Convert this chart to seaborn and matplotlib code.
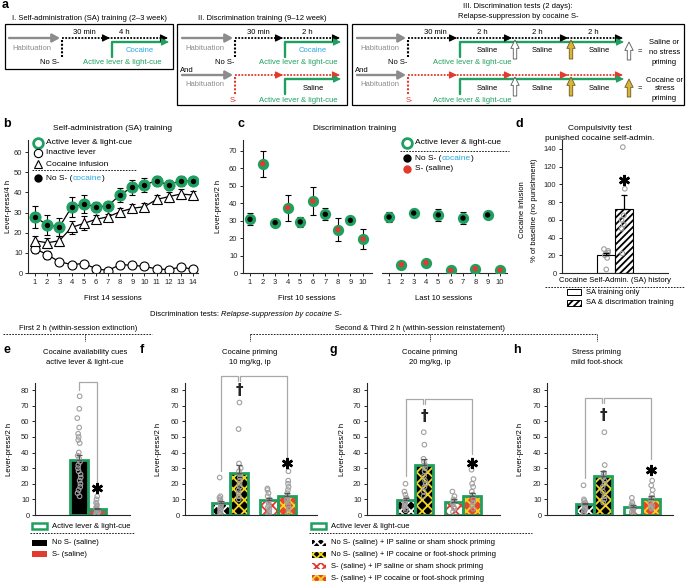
import numpy as np
import pandas as pd
import matplotlib.pyplot as plt
import seaborn as sns
from matplotlib.patches import Rectangle

# ---------------- values ----------------
# b: self-administration training
sessions_b = list(range(1, 15))
active_b = [27.9, 23.8, 22.8, 32.6, 34.2, 32.9, 33.2, 38.9, 42.5, 43.7, 45.8, 43.7, 45.8, 45.7]
active_b_err = [5.5, 5, 4.5, 5, 4.5, 2.5, 2, 3.5, 3.7, 3.6, 2.4, 2.5, 2.4, 1.8]
infusion_b = [16, 15, 16, 22.6, 24.6, 26.6, 27.9, 30.4, 32.1, 32.9, 36.5, 37.9, 39.2, 38.7]
infusion_b_err = [2.5, 2.5, 2.5, 3, 3.5, 2, 1.5, 2, 2, 2, 2, 2.5, 2.5, 2]
inactive_b = [12.1, 9.1, 5.6, 4.2, 4.7, 2.2, 1.2, 4.2, 3.8, 3.3, 2, 1.7, 3, 1.8]
inactive_b_err = [2, 2, 1, 0.8, 0.8, 0.5, 0.5, 0.8, 0.8, 0.6, 0.5, 0.5, 0.5, 0.5]

# c: discrimination training
sessions_c = list(range(1, 11))
cue_c = ["No S-", "S-"] * 5
first10 = [30.8, 62.7, 28.9, 37.5, 29.3, 41.3, 33.7, 24.9, 30.2, 19.5]
first10_err = [3.4, 7.5, 1, 7.5, 3, 8, 3.5, 6.5, 2, 6]
last10 = [32.1, 4.8, 34.4, 5.9, 33.3, 1.5, 31.5, 2.5, 33.3, 1.7]
last10_err = [3, 0.5, 2.5, 0.5, 3.5, 0.5, 3.5, 0.5, 2, 0.5]

# d: compulsivity test
groups_d = ["SA training only", "SA & discrimation training"]
mean_d = [20, 72]
err_d = [3, 16]
dots_d = [[4, 17, 20, 22, 23, 25, 27], [22, 50, 55, 60, 65, 95, 142]]

# e: cue test
groups_e = ["No S- (saline)", "S- (saline)"]
mean_e = [35.2, 3.8]
err_e = [3, 1]
dots_e = [[76, 68, 62, 56, 52, 50, 48, 46, 40, 38, 36, 34, 32, 30, 28, 26, 24, 22, 20, 18, 16, 14, 12],
          [12, 10, 8, 7, 6, 5, 4, 3, 2, 1, 1, 0, 0, 0]]

# f-h: priming tests (order: NoS-/saline, NoS-/prime, S-/saline, S-/prime)
tests = ["No S- (saline)", "S- (saline)"]
primes = ["IP saline or sham", "IP cocaine or foot-shock"]
mean_f = [7.7, 27, 9.6, 12.2]
err_f = [1.5, 5, 1.2, 2]
dots_f = [[24, 12, 11, 10, 9, 8, 7, 6, 5, 4, 3, 2, 1, 0],
          [72, 55, 33, 30, 28, 26, 24, 22, 20, 18, 16, 14, 12, 10],
          [17, 16, 14, 12, 10, 9, 8, 6, 5, 4, 2, 1, 0],
          [28, 22, 20, 18, 16, 14, 12, 10, 9, 8, 6, 4, 2]]
mean_g = [9.6, 32, 8.5, 12]
err_g = [1.5, 4, 1.5, 2]
dots_g = [[20, 15, 13, 11, 10, 9, 8, 7, 6, 5, 4, 3],
          [53, 45, 36, 34, 32, 30, 28, 25, 22, 20, 18, 15, 12],
          [15, 12, 10, 9, 8, 7, 5, 4, 2],
          [29, 23, 20, 18, 15, 13, 10, 8, 6, 4]]
mean_h = [7, 25, 5.1, 10.2]
err_h = [1, 3, 1, 1.8]
dots_h = [[19, 10, 9, 8, 7, 6, 5, 4, 3, 2, 1],
          [53, 32, 27, 26, 24, 22, 20, 18, 15, 12, 10, 8],
          [11, 8, 7, 6, 5, 4, 3, 2, 1],
          [22, 19, 16, 13, 11, 10, 8, 6, 5, 4]]

legend_fh = ["No S- (saline) + IP saline or sham shock priming",
             "No S- (saline) + IP cocaine or foot-shock priming",
             "S- (saline) + IP saline or sham shock priming",
             "S- (saline) + IP cocaine or foot-shock priming"]

# ---------------- style ----------------
sns.set_style("ticks")
plt.rcParams["font.family"] = ["Liberation Sans", "DejaVu Sans"]
plt.rcParams["hatch.linewidth"] = 1.3
plt.rcParams["axes.linewidth"] = 0.8

GREEN = "#20a060"
BLUE = "#2aa8e0"
RED = "#e23a2e"
GREY = "#8c8c8c"
DOT = "#a0a0a0"
GOLD = "#d8b43a"
YEL = "#f2d51e"
FS = 5.5
# face colour, hatch colour for the four priming bars
BAR_STYLES = [("black", "white"), ("black", YEL), ("white", RED), ("#e8452c", YEL)]

W, H = 686, 583
fig = plt.figure(figsize=(W / 100, H / 100), dpi=100)


def add_ax(x0, y0, x1, y1):
    return fig.add_axes([x0 / W, 1 - y1 / H, (x1 - x0) / W, (y1 - y0) / H])


ov = fig.add_axes([0, 0, 1, 1], zorder=10)
ov.set_xlim(0, W)
ov.set_ylim(H, 0)
ov.axis("off")


def txt(x, y, s, size=FS, color="k", ha="center", **kw):
    return ov.text(x, y, s, fontsize=size, color=color, ha=ha, va="center", **kw)


def rich(x, y, parts, size=FS):
    r = fig.canvas.get_renderer()
    for s, c, st in parts:
        t = ov.text(x, y, s, fontsize=size, color=c, ha="left", va="center", style=st)
        x += t.get_window_extent(renderer=r).width


def label(x, y, s):
    txt(x, y, s, size=9, fontweight="bold", ha="left")


def style_ax(ax, ymax, yticks):
    sns.despine(ax=ax)
    ax.set_ylim(0, ymax)
    ax.set_yticks(yticks)
    ax.tick_params(labelsize=FS, length=2.5, width=0.7, pad=1.5)
    ax.set_xlabel("")
    ax.set_ylabel("")


def head(x, y, color, dx=1, dy=0):
    ov.annotate("", xy=(x, y), xytext=(x - 3 * dx, y - 3 * dy),
                arrowprops=dict(arrowstyle="-|>,head_length=0.45,head_width=0.22",
                                color=color, lw=0.8, shrinkA=0, shrinkB=0))


def dotted(x0, x1, y, color, heads):
    ov.plot([x0, x1 - 2], [y, y], color=color, lw=1.3, ls=(0, (1, 0.8)))
    for hx in heads:
        head(hx, y, color)


def row(xl, y, xs, xend, s_color, heads, gx):
    ov.annotate("", xy=(xs - 2, y), xytext=(xl, y),
                arrowprops=dict(arrowstyle="-|>,head_length=0.45,head_width=0.25",
                                color=GREY, lw=1.7, shrinkA=0, shrinkB=0))
    dotted(xs, xend, y, s_color, heads)
    ov.plot([xs, xs], [y + 2, y + 19], color=s_color, lw=1.5, ls=(0, (1, 0.8)))
    ov.plot([gx, gx, xend - 3], [y + 19, y + 4, y + 4], color=GREEN, lw=1.7)
    head(xend + 1, y + 4, GREEN)


def up_arrow(x, y0, y1, fc, ec):
    ov.annotate("", xy=(x, y1), xytext=(x, y0),
                arrowprops=dict(arrowstyle="simple,head_length=0.6,head_width=0.6,tail_width=0.25",
                                fc=fc, ec=ec, lw=0.6, shrinkA=0, shrinkB=0))


# ================= panel a =================
label(2, 5, "a")
for (x, y, w, h) in [(5, 24, 168, 45), (177, 24, 170, 81), (352, 24, 332, 81)]:
    ov.add_patch(Rectangle((x, y), w, h, fill=False, ec="k", lw=0.9))
txt(89, 18, "I. Self-administration (SA) training (2\u20133 week)")
txt(262, 18, "II. Discrimination training (9\u201312 week)")
txt(518, 7, "III. Discrimination tests (2 days):")
txt(518, 17, "Relapse-suppression by cocaine S-")

# box I
row(9, 38, 62, 168, "k", [110, 168], 112)
txt(84, 33, "30 min"); txt(124, 33, "4 h")
txt(32, 48, "Habituation", color=GREY); txt(140, 51, "Cocaine", color=BLUE)
txt(50, 63, "No S-"); txt(122, 63, "Active lever & light-cue", color=GREEN)

# box II
row(182, 38, 235, 340, "k", [283, 340], 285)
txt(258, 33, "30 min"); txt(307, 33, "2 h")
txt(205, 48, "Habituation", color=GREY); txt(313, 51, "Cocaine", color=BLUE)
txt(225, 63, "No S-"); txt(298, 63, "Active lever & light-cue", color=GREEN)
txt(180, 70, "And", ha="left")
row(182, 75, 235, 340, RED, [283, 340], 285)
txt(205, 85, "Habituation", color=GREY); txt(313, 88, "Saline")
txt(233, 100, "S-", color=RED); txt(298, 100, "Active lever & light-cue", color=GREEN)

# box III
for yy, sc in [(38, "k"), (75, RED)]:
    row(357, yy, 408, 623, sc, [457, 512, 568, 623], 460)
    for sx in [487, 542, 599]:
        txt(sx, yy + 13, "Saline")
    up_arrow(515, yy + 21, yy + 2, "white", "#555555")
    up_arrow(571, yy + 21, yy + 2, GOLD, "#6b5a1e")
    txt(380, yy + 10, "Habituation", color=GREY)
txt(435, 33, "30 min")
for hx in [482, 537, 593]:
    txt(hx, 33, "2 h")
txt(398, 63, "No S-"); txt(472, 63, "Active lever & light-cue", color=GREEN)
txt(355, 70, "And", ha="left")
txt(409, 100, "S-", color=RED); txt(472, 100, "Active lever & light-cue", color=GREEN)
up_arrow(629, 60, 42, "white", "#555555")
txt(664, 42, "Saline or"); txt(640, 52, "="); txt(665, 52, "no stress"); txt(664, 62, "priming")
up_arrow(629, 97, 79, GOLD, "#6b5a1e")
txt(664, 80, "Cocaine or"); txt(640, 89, "="); txt(665, 89, "stress"); txt(664, 99, "priming")

# ================= panel b =================
label(3, 124, "b")
txt(113, 128, "Self-administration (SA) training", size=6)
axb = add_ax(28, 140, 198, 273)
for y, e in [(inactive_b, inactive_b_err), (infusion_b, infusion_b_err), (active_b, active_b_err)]:
    axb.errorbar(sessions_b, y, yerr=e, fmt="none", ecolor="k", elinewidth=0.8,
                 capsize=2, capthick=0.8, zorder=1.5)
sns.lineplot(x=sessions_b, y=inactive_b, color="k", lw=0.9, marker="o", markersize=6.5,
             markerfacecolor="white", markeredgecolor="k", markeredgewidth=0.8, ax=axb)
sns.lineplot(x=sessions_b, y=infusion_b, color="k", lw=0.9, marker="^", markersize=6.5,
             markerfacecolor="white", markeredgecolor="k", markeredgewidth=0.8, ax=axb)
sns.lineplot(x=sessions_b, y=active_b, color="k", lw=0.9, marker="o", markersize=8,
             markerfacecolor=GREEN, markeredgecolor=GREEN, ax=axb)
sns.scatterplot(x=sessions_b, y=active_b, color="k", s=15, linewidth=0, zorder=5, ax=axb)
style_ax(axb, 66, range(0, 61, 10))
axb.set_xlim(0.42, 14.41)
axb.set_xticks(sessions_b)
txt(9, 206, "Lever-press/4 h", rotation=90)
txt(113, 298, "First 14 sessions")
ov.plot(38, 143, "o", ms=7, mfc="white", mec=GREEN, mew=2)
txt(46, 143, "Active lever & light-cue", size=6, ha="left")
ov.plot(38, 153, "o", ms=6, mfc="white", mec="k", mew=0.8)
txt(46, 153, "Inactive lever", size=6, ha="left")
ov.plot(38, 164, "^", ms=6, mfc="white", mec="k", mew=0.8)
txt(46, 164, "Cocaine infusion", size=6, ha="left")
ov.plot([32, 137], [170, 170], color="k", lw=0.6, ls=(0, (2, 1.5)))
ov.plot(38, 178, "o", ms=5, color="k")
rich(46, 178, [("No S- (", "k", "normal"), ("cocaine", BLUE, "normal"), (")", "k", "normal")], size=6)

# ================= panel c =================
label(238, 124, "c")
txt(355, 128, "Discrimination training", size=6)
axc1 = add_ax(243, 140, 372, 273)
axc2 = add_ax(382, 140, 507, 273)
for ax, vals, errs, xl, xr in [(axc1, first10, first10_err, 0.44, 10.72),
                               (axc2, last10, last10_err, 0.43, 10.57)]:
    ax.errorbar(sessions_c, vals, yerr=errs, fmt="none", ecolor="k", elinewidth=0.8,
                capsize=2, capthick=0.8, zorder=1.5)
    sns.scatterplot(x=sessions_c, y=vals, color=GREEN, s=66, linewidth=0, zorder=3, ax=ax)
    sns.scatterplot(x=sessions_c, y=vals, hue=cue_c, palette={"No S-": "k", "S-": RED},
                    s=15, linewidth=0, zorder=4, legend=False, ax=ax)
    style_ax(ax, 76.3, range(0, 71, 10))
    ax.set_xlim(xl, xr)
    ax.set_xticks(sessions_c)
axc2.spines["left"].set_visible(False)
axc2.tick_params(left=False, labelleft=False)
txt(219, 206, "Lever-press/2 h", rotation=90)
txt(307, 298, "First 10 sessions")
txt(444, 298, "Last 10 sessions")
ov.plot(407, 143, "o", ms=7, mfc="white", mec=GREEN, mew=2)
txt(415, 143, "Active lever & light-cue", size=6, ha="left")
ov.plot([400, 509], [151, 151], color="k", lw=0.6, ls=(0, (2, 1.5)))
ov.plot(407, 158, "o", ms=5, color="k")
rich(415, 158, [("No S- (", "k", "normal"), ("cocaine", BLUE, "normal"), (")", "k", "normal")], size=6)
ov.plot(407, 169, "o", ms=5, color=RED)
txt(415, 169, "S- (saline)", size=6, ha="left")

# ================= panel d =================
label(516, 124, "d")
txt(600, 128, "Compulsivity test", size=6)
txt(600, 138, "punished cocaine self-admin.", size=6)
axd = add_ax(562, 140, 668, 273)
sns.barplot(x=groups_d, y=mean_d, hue=groups_d, palette=["white", "white"], width=1,
            edgecolor="k", linewidth=0.8, legend=False, ax=axd)
bars_d = sorted(axd.patches, key=lambda p: p.get_x())
bars_d[1].set_hatch("/////")
df_d = pd.DataFrame([(g, v) for g, vals in zip(groups_d, dots_d) for v in vals], columns=["g", "v"])
np.random.seed(3)
sns.stripplot(data=df_d, x="g", y="v", order=groups_d, color=DOT, jitter=0.15, size=3.3, ax=axd)
for c in axd.collections:
    c.set_facecolor("none"); c.set_edgecolor(DOT); c.set_linewidth(0.8)
axd.errorbar([0, 1], mean_d, yerr=[[0, 0], err_d], fmt="none", ecolor="k", elinewidth=0.9,
             capsize=2, capthick=0.9, zorder=6)
axd.plot(1, 105, marker=(6, 2, 0), ms=8, mew=1.8, color="k", zorder=7)
style_ax(axd, 150, range(0, 141, 20))
axd.set_xlim(-2.444, 3.444)
axd.tick_params(bottom=False, labelbottom=False)
txt(522, 210, "Cocaine infusion", rotation=90)
txt(534, 210, "% of baseline (no punishment)", rotation=90)
txt(615, 281, "Cocaine Self-Admin. (SA) history")
ov.plot([545, 684], [287, 287], color="k", lw=0.6, ls=(0, (2, 1.5)))
ov.add_patch(Rectangle((567, 289), 14, 6, fc="white", ec="k", lw=0.7))
txt(586, 292, "SA training only", ha="left")
ov.add_patch(Rectangle((567, 300), 14, 6, fc="white", ec="k", lw=0.7, hatch="/////"))
txt(586, 303, "SA & discrimation training", ha="left")

# ================= middle headers =================
rich(150, 315, [("Discrimination tests: ", "k", "normal"),
                ("Relapse-suppression by cocaine S-", "k", "italic")])
txt(78, 328, "First 2 h (within-session extinction)")
txt(420, 328, "Second & Third 2 h (within-session reinstatement)")
ov.plot([3, 152], [334, 334], color="k", lw=0.6, ls=(0, (2, 1.5)))
ov.plot([250, 597], [334, 334], color="k", lw=0.6, ls=(0, (2, 1.5)))
for tx in [85, 250, 430, 597]:
    ov.plot([tx, tx], [334, 341], color="k", lw=0.6, ls=(0, (1.5, 1)))

# ================= panel e =================
label(3, 350, "e")
txt(85, 352, "Cocaine availability cues"); txt(85, 363, "active lever & light-cue")
axe = add_ax(35, 383, 130, 515)
sns.barplot(x=groups_e, y=mean_e, hue=groups_e, palette=["black", RED], width=1,
            edgecolor=GREEN, linewidth=2, legend=False, ax=axe)
df_e = pd.DataFrame([(g, v) for g, vals in zip(groups_e, dots_e) for v in vals], columns=["g", "v"])
sns.stripplot(data=df_e, x="g", y="v", order=groups_e, color=DOT, jitter=0.1, size=3.3, ax=axe)
for c in axe.collections:
    c.set_facecolor("none"); c.set_edgecolor(DOT); c.set_linewidth(0.8); c.set_zorder(4)
axe.errorbar([0, 1], mean_e, yerr=[[0, 0], err_e], fmt="none", ecolor="#555555",
             elinewidth=0.9, capsize=2, capthick=0.9, zorder=5)
axe.plot([0, 0, 1, 1], [80, 85, 85, 21], color="#a8a8a8", lw=0.9, clip_on=False, zorder=6)
axe.plot(1, 17.5, marker=(6, 2, 0), ms=8, mew=1.8, color="k", zorder=7)
style_ax(axe, 84.5, range(0, 81, 10))
axe.set_xlim(-2.444, 2.833)
axe.tick_params(bottom=False, labelbottom=False)
txt(10, 449, "Lever-press/2 h", rotation=90)
ov.add_patch(Rectangle((32, 523), 15, 6, fc="white", ec=GREEN, lw=1.8))
txt(52, 526, "Active lever & light-cue", ha="left")
ov.plot([30, 135], [533, 533], color="k", lw=0.6, ls=(0, (2, 1.5)))
ov.add_patch(Rectangle((32, 540), 15, 6, fc="black", lw=0))
txt(52, 543, "No S- (saline)", ha="left")
ov.add_patch(Rectangle((32, 551), 15, 6, fc=RED, lw=0))
txt(52, 554, "S- (saline)", ha="left")


# ================= panels f-h =================
def priming_panel(x0, x1, xl, means, errs, dots, dag_y, star_y, top, left_bot, right_bot):
    ax = add_ax(x0, 383, x1, 515)
    df_bar = pd.DataFrame({"test": [tests[0], tests[0], tests[1], tests[1]],
                           "prime": [primes[0], primes[1], primes[0], primes[1]],
                           "value": means})
    sns.barplot(data=df_bar, x="test", y="value", hue="prime", order=tests, hue_order=primes,
                width=0.75, errorbar=None, legend=False, ax=ax)
    bars = sorted(ax.patches, key=lambda p: p.get_x())
    centers = []
    for p, (fc, hc) in zip(bars, BAR_STYLES):
        p.set_facecolor(fc); p.set_edgecolor(hc); p.set_hatch("xxx"); p.set_linewidth(0)
        ax.add_patch(Rectangle((p.get_x(), 0), p.get_width(), p.get_height(), fill=False,
                               ec=GREEN, lw=2, zorder=2.5))
        centers.append(p.get_x() + p.get_width() / 2)
    rows = []
    for t, pr, vals in zip([tests[0], tests[0], tests[1], tests[1]],
                           [primes[0], primes[1], primes[0], primes[1]], dots):
        rows += [(t, pr, v) for v in vals]
    df_dots = pd.DataFrame(rows, columns=["test", "prime", "value"])
    sns.stripplot(data=df_dots, x="test", y="value", hue="prime", order=tests, hue_order=primes,
                  dodge=True, jitter=0.05, size=3.3, palette=[DOT, DOT], legend=False, ax=ax)
    for c in ax.collections:
        c.set_facecolor("none"); c.set_edgecolor(DOT); c.set_linewidth(0.8); c.set_zorder(4)
    ax.errorbar(centers, means, yerr=[[0] * 4, errs], fmt="none", ecolor="#555555",
                elinewidth=0.9, capsize=2, capthick=0.9, zorder=5)
    c0, c1, c2, c3 = centers
    d = 0.03
    ax.plot([c0, c0, c1 - d, c1 - d], [left_bot, top, top, top - 3], color="#a8a8a8",
            lw=0.9, clip_on=False, zorder=6)
    ax.plot([c1 + d, c1 + d, c3, c3], [top - 3, top, top, right_bot], color="#a8a8a8",
            lw=0.9, clip_on=False, zorder=6)
    ax.text(c1, dag_y, "\u2020", fontsize=11, fontweight="bold", ha="center", va="center",
            family="DejaVu Sans", zorder=7)
    ax.plot(c3, star_y, marker=(6, 2, 0), ms=8, mew=1.8, color="k", zorder=7)
    style_ax(ax, 84.5, range(0, 81, 10))
    ax.set_xlim(xl, xl + (x1 - x0) / 48)
    ax.tick_params(bottom=False, labelbottom=False)
    return ax


label(140, 350, "f")
txt(250, 352, "Cocaine priming"); txt(250, 363, "10 mg/kg, ip")
priming_panel(185, 317, -0.9375, mean_f, err_f, dots_f, 80, 33, 89, 28, 37)
txt(159, 449, "Lever-press/2 h", rotation=90)

label(330, 350, "g")
txt(430, 352, "Cocaine priming"); txt(430, 363, "20 mg/kg, ip")
priming_panel(367, 500, -1.0, mean_g, err_g, dots_g, 63, 33, 74, 25, 39)
txt(342, 449, "Lever-press/2 h", rotation=90)

label(513, 350, "h")
txt(597, 352, "Stress priming"); txt(597, 363, "mild foot-shock")
priming_panel(547, 673, -0.979, mean_h, err_h, dots_h, 64, 29, 75, 24, 36)
txt(521, 449, "Lever-press/2 h", rotation=90)

# legend for f-h
ov.add_patch(Rectangle((311, 523), 15, 6, fc="white", ec=GREEN, lw=1.8))
txt(331, 526, "Active lever & light-cue", ha="left")
ov.plot([309, 532], [533, 533], color="k", lw=0.6, ls=(0, (2, 1.5)))
for i, (lab, (fc, hc)) in enumerate(zip(legend_fh, BAR_STYLES)):
    yy = 543 + i * 11.7
    ov.add_patch(Rectangle((312, yy - 3), 14, 6, fc=fc, ec=hc, lw=0, hatch="xxxx"))
    txt(331, yy, lab, ha="left")

fig.savefig("out.png", dpi=100)
